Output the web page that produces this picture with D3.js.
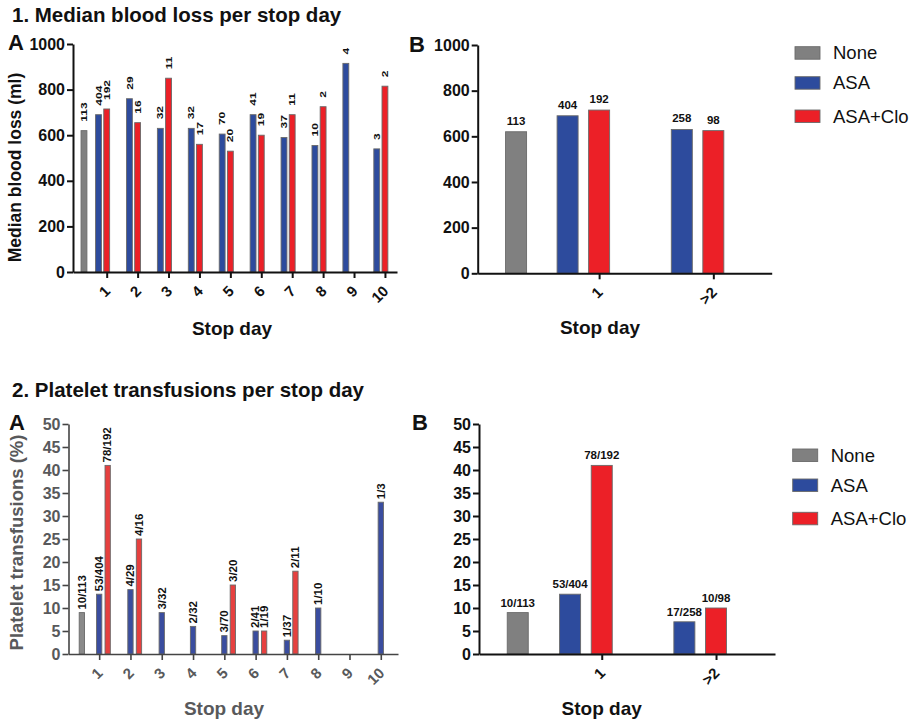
<!DOCTYPE html>
<html><head><meta charset="utf-8">
<script src="https://cdn.jsdelivr.net/npm/d3@7"></script>
<style>
body{margin:0;background:#fff}
svg{display:block;font-family:"Liberation Sans",Arial,Helvetica,sans-serif}
</style>
</head><body>
<svg id="chart" width="913" height="723"></svg>
<script>
// ---------------- DATA ----------------
const seriesNames = ["None", "ASA", "ASA+Clo"];

// 1A: median blood loss per stop day
const days = ["1","2","3","4","5","6","7","8","9","10"];
const bloodNone = [620];            const bloodNoneN = ["113"];
const bloodASA  = [690,760,630,630,605,690,590,555,915,540];
const bloodASAN = ["404","29","32","32","70","41","37","10","4","3"];
const bloodClo  = [715,655,850,560,530,600,690,725,null,815];
const bloodCloN = ["192","16","11","17","20","19","11","2",null,"2"];

// 1B: median blood loss, grouped
const groupsB = ["1", ">2"];
const bloodBNone = [620];          const bloodBNoneN = ["113"];
const bloodBASA  = [690, 630];     const bloodBASAN  = ["404", "258"];
const bloodBClo  = [715, 625];     const bloodBCloN  = ["192", "98"];

// 2A: platelet transfusions per stop day (%)
const pltNone = [9];               const pltNoneN = ["10/113"];
const pltASA  = [13,14,9,6,4,5,3,10,null,33];
const pltASAN = ["53/404","4/29","3/32","2/32","3/70","2/41","1/37","1/10",null,"1/3"];
const pltClo  = [41,25,null,null,15,5,18,null,null,null];
const pltCloN = ["78/192","4/16",null,null,"3/20","1/19","2/11",null,null,null];

// 2B: platelet transfusions grouped
const pltBNone = [9];              const pltBNoneN = ["10/113"];
const pltBASA  = [13, 7];          const pltBASAN  = ["53/404", "17/258"];
const pltBClo  = [41, 10];         const pltBCloN  = ["78/192", "10/98"];

// tick labels
const bloodTicks = [0,200,400,600,800,1000];
const pltTicks = [0,5,10,15,20,25,30,35,40,45,50];

// ---------------- DRAWING ----------------
const svg = d3.select("#chart");
svg.append("rect").attr("width",913).attr("height",723).attr("fill","#fff");

function drawPanel(cfg) {
  const g = svg.append("g");
  const x = d3.scaleLinear().domain(cfg.xDomain).range(cfg.xRange);
  const y = d3.scaleLinear().domain(cfg.yDomain).range(cfg.yRange);
  const axisY = cfg.yRange[0];
  const unit = Math.abs(x(1) - x(0));
  const bw = cfg.barW * unit;

  const recs = [];
  const addSeries = (name, vals, labs) => vals.forEach((v, i) => {
    if (v != null) recs.push({name, i, v, lab: labs[i]});
  });
  addSeries("None", cfg.none, cfg.noneN);
  addSeries("ASA", cfg.asa, cfg.asaN);
  addSeries("ASA+Clo", cfg.clo, cfg.cloN);

  const cx = d => x(d.i + cfg.offsets[d.name]);
  g.selectAll("rect.bar").data(recs).join("rect")
    .attr("class","bar")
    .attr("x", d => cx(d) - bw/2)
    .attr("width", bw)
    .attr("y", d => y(d.v))
    .attr("height", d => axisY - y(d.v))
    .attr("fill", d => cfg.colors[d.name])
    .attr("stroke", "#6a6a6a").attr("stroke-width", 0.9);

  const lab = g.selectAll("text.vl").data(recs).join("text")
    .attr("class","vl")
    .attr("font-size", cfg.labSize)
    .attr("font-weight", cfg.labWeight)
    .attr("fill", "#111")
    .text(d => d.lab);
  if (cfg.vertical) {
    const sq = cfg.labSquash || 1;
    lab.attr("text-anchor","start")
       .attr("transform", d => `translate(${cx(d) + cfg.labSize*0.36*sq},${y(d.v) - cfg.labGap}) rotate(-90) scale(1,${sq})`);
  } else {
    lab.attr("text-anchor","middle")
       .attr("x", d => cx(d)).attr("y", d => y(d.v) - cfg.labGap);
  }

  const ya = g.append("g").attr("transform", `translate(${cfg.xRange[0]},0)`)
    .call(d3.axisLeft(y).tickValues(cfg.yTicks).tickFormat(d => String(d))
      .tickSize(6).tickSizeOuter(0).tickPadding(2));
  ya.select(".domain").attr("stroke", cfg.axisColor).attr("stroke-width", cfg.axisW);
  ya.selectAll(".tick line").attr("stroke", cfg.axisColor).attr("stroke-width", cfg.axisW);
  ya.selectAll(".tick text").attr("font-size", 16).attr("font-weight","bold")
    .attr("fill", cfg.textColor).attr("font-family", null);

  const xa = g.append("g").attr("transform", `translate(0,${axisY})`)
    .call(d3.axisBottom(x).tickValues(d3.range(cfg.cats.length))
      .tickFormat(i => cfg.cats[i]).tickSize(6).tickSizeOuter(0));
  xa.select(".domain").attr("stroke", cfg.axisColor).attr("stroke-width", cfg.axisW);
  xa.selectAll(".tick line").attr("stroke", cfg.axisColor).attr("stroke-width", cfg.axisW);
  xa.selectAll(".tick text").attr("font-size", 15).attr("font-weight","bold")
    .attr("fill", cfg.textColor).attr("font-family", null)
    .attr("text-anchor","end").attr("dy", null).attr("y", null)
    .attr("transform", "translate(4,20) rotate(-45)");

  g.append("text").attr("x", cfg.xTitle[0]).attr("y", cfg.xTitle[1])
    .attr("text-anchor","middle").attr("font-size", 19).attr("font-weight","bold")
    .attr("fill", cfg.textColor).text("Stop day");
  if (cfg.yTitle) {
    g.append("text").attr("transform", `translate(${cfg.yTitle.x},${cfg.yTitle.y}) rotate(-90)`)
      .attr("text-anchor","middle").attr("font-size", cfg.yTitle.size).attr("font-weight","bold")
      .attr("fill", cfg.textColor).text(cfg.yTitle.text);
  }
  g.append("text").attr("x", cfg.letter[0]).attr("y", cfg.letter[1])
    .attr("font-size", 22).attr("font-weight","bold").attr("fill","#111").text(cfg.letter[2]);

  if (cfg.legend) {
    const L = cfg.legend;
    const lg = g.selectAll("g.leg").data(seriesNames).join("g").attr("class","leg")
      .attr("transform", (d, i) => `translate(${L.x},${L.y + L.rows[i]})`);
    lg.append("rect").attr("width", 25).attr("height", 12.5)
      .attr("fill", d => cfg.colors[d]).attr("stroke","#6a6a6a").attr("stroke-width",0.9);
    lg.append("text").attr("x", 38).attr("y", 12.5).attr("font-size", 18.5)
      .attr("fill","#111").text(d => d);
  }
}

const colorsTop = {"None":"#808080","ASA":"#2d4b9d","ASA+Clo":"#ec2027"};
const colors2A  = {"None":"#8a8a8a","ASA":"#3a4d9f","ASA+Clo":"#e6403f"};

svg.append("text").attr("x",12).attr("y",21.5).attr("font-size",20.5).attr("font-weight","bold")
  .attr("fill","#111").text("1. Median blood loss per stop day");
svg.append("text").attr("x",12).attr("y",397).attr("font-size",20.5).attr("font-weight","bold")
  .attr("fill","#111").text("2. Platelet transfusions per stop day");

// 1A
drawPanel({
  cats: days, none: bloodNone, noneN: bloodNoneN, asa: bloodASA, asaN: bloodASAN, clo: bloodClo, cloN: bloodCloN,
  xDomain: [-1.09, 9.39], xRange: [73, 397], yDomain: [0, 1000], yRange: [272, 44], yTicks: bloodTicks,
  offsets: {"None": -0.735, "ASA": -0.265, "ASA+Clo": 0}, barW: 0.19,
  colors: colorsTop, vertical: true, labSize: 12, labWeight: "bold", labGap: 9, labSquash: 0.72,
  axisColor: "#111", axisW: 2, textColor: "#111",
  xTitle: [232, 335], yTitle: {x: 21, y: 167.5, size: 17.5, text: "Median blood loss (ml)"},
  letter: [8, 50, "A"]
});

// 1B
drawPanel({
  cats: groupsB, none: bloodBNone, noneN: bloodBNoneN, asa: bloodBASA, asaN: bloodBASAN, clo: bloodBClo, cloN: bloodBCloN,
  xDomain: [-1.063, 1.511], xRange: [477.7, 771.7], yDomain: [0, 1000], yRange: [273.3, 45], yTicks: bloodTicks,
  offsets: {"None": -0.727, "ASA": -0.276, "ASA+Clo": 0}, barW: 0.184,
  colors: colorsTop, vertical: false, labSize: 11.5, labWeight: "bold", labGap: 7,
  axisColor: "#111", axisW: 2, textColor: "#111",
  xTitle: [600, 334], yTitle: null,
  letter: [409, 52, "B"],
  legend: {x: 795, y: 46.7, rows: [0, 30, 63.3]}
});

// 2A
drawPanel({
  cats: days, none: pltNone, noneN: pltNoneN, asa: pltASA, asaN: pltASAN, clo: pltClo, cloN: pltCloN,
  xDomain: [-0.98, 9.55], xRange: [68.5, 398], yDomain: [0, 50], yRange: [654, 424], yTicks: pltTicks,
  offsets: {"None": -0.553, "ASA": 0, "ASA+Clo": 0.272}, barW: 0.17,
  colors: colors2A, vertical: true, labSize: 11.5, labWeight: "bold", labGap: 3, labSquash: 0.92,
  axisColor: "#444", axisW: 1.6, textColor: "#58595b",
  xTitle: [224, 715], yTitle: {x: 23, y: 542.5, size: 18.5, text: "Platelet transfusions (%)"},
  letter: [9, 430, "A"]
});

// 2B
drawPanel({
  cats: groupsB, none: pltBNone, noneN: pltBNoneN, asa: pltBASA, asaN: pltBASAN, clo: pltBClo, cloN: pltBCloN,
  xDomain: [-1.074, 1.516], xRange: [479, 775], yDomain: [0, 50], yRange: [654, 424], yTicks: pltTicks,
  offsets: {"None": -0.735, "ASA": -0.277, "ASA+Clo": 0}, barW: 0.184,
  colors: colorsTop, vertical: false, labSize: 11.5, labWeight: "bold", labGap: 6,
  axisColor: "#111", axisW: 2, textColor: "#111",
  xTitle: [601.7, 715], yTitle: null,
  letter: [412, 430, "B"],
  legend: {x: 792.7, y: 449, rows: [0, 30, 63.3]}
});
</script>
</body></html>
